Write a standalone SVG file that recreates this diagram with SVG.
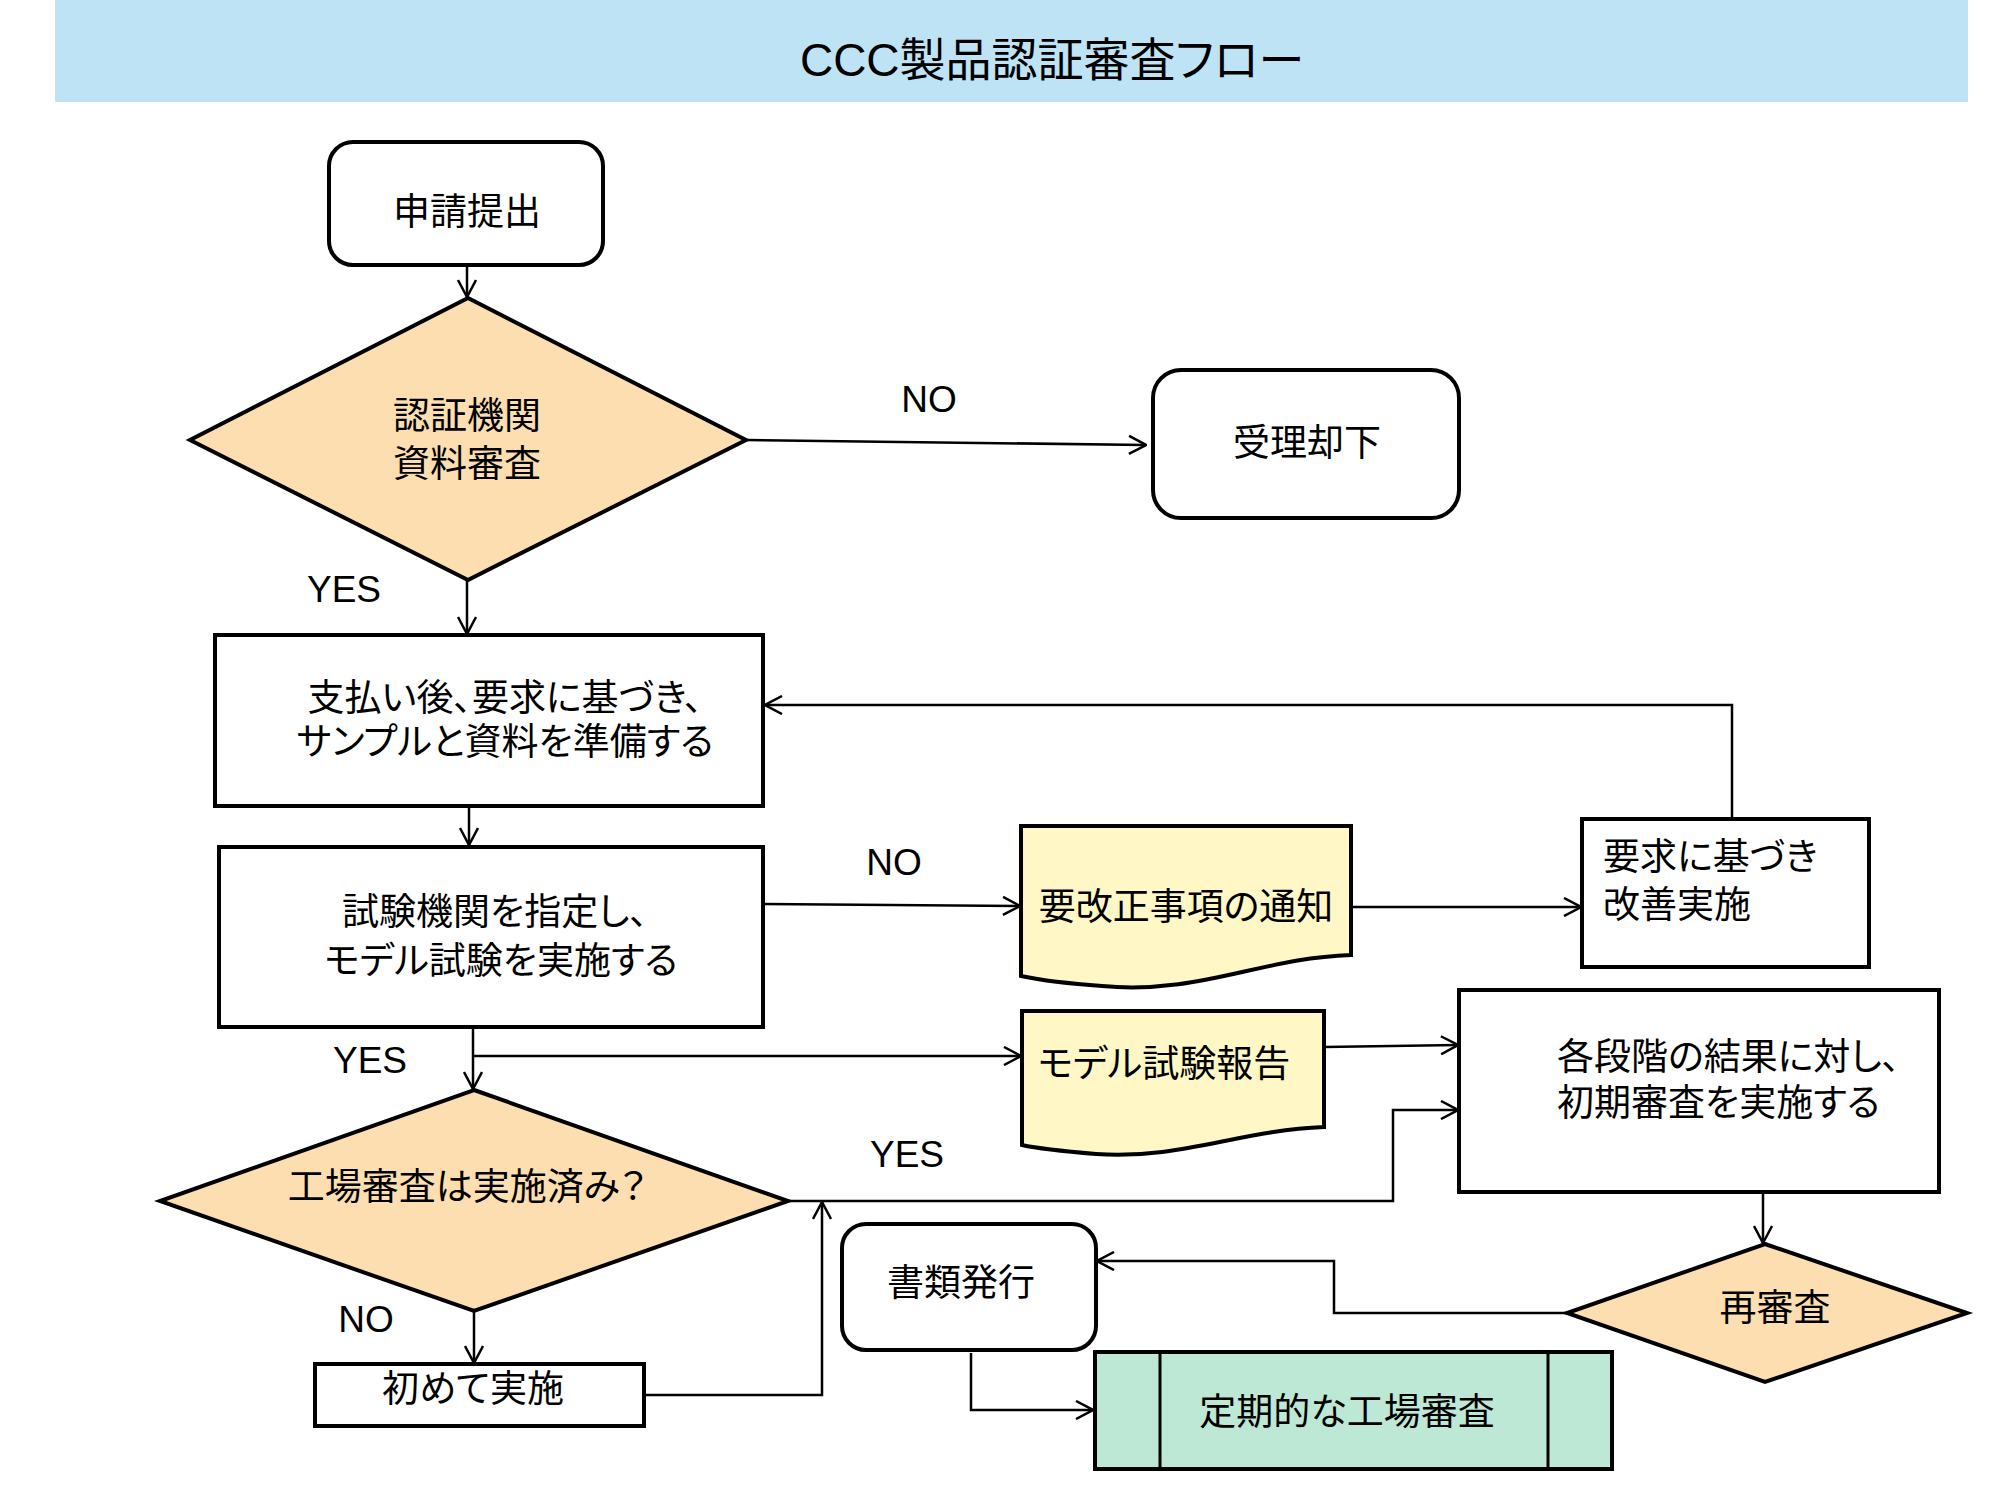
<svg xmlns="http://www.w3.org/2000/svg" width="2000" height="1500" viewBox="0 0 2000 1500">
<style>
.box{fill:#fff;stroke:#000;stroke-width:4}
.dia{fill:#FCDEB0;stroke:#000;stroke-width:4;stroke-linejoin:miter}
.doc{fill:#FFF7C5;stroke:#000;stroke-width:4}
.pre{fill:#BCE8D5;stroke:#000;stroke-width:4}
.conn{fill:none;stroke:#000;stroke-width:2.5;marker-end:url(#arr)}
.t{font-family:"Liberation Sans","Noto Sans CJK JP",sans-serif;font-size:37px;fill:#000;dominant-baseline:central;text-anchor:middle;font-feature-settings:"palt" 1}
.s{text-anchor:start}
.lbl{font-family:"Liberation Sans","Noto Sans CJK JP",sans-serif;font-size:37px;fill:#000;dominant-baseline:central;text-anchor:middle}
</style>
<defs>
<marker id="arr" viewBox="0 0 20 20" refX="19" refY="10" markerWidth="20" markerHeight="20" markerUnits="userSpaceOnUse" orient="auto">
<path d="M2,1 L19,10 L2,19" fill="none" stroke="#000" stroke-width="2.5"/>
</marker>
</defs>
<rect width="2000" height="1500" fill="#fff"/>
<g id="title">
<rect x="55" y="0" width="1913" height="102" fill="#BDE3F4"/>
<text class="t" x="1052" y="60" style="font-size:46px">CCC製品認証審査フロー</text>
</g>
<g id="connectors">
<path class="conn" d="M467,266 V297"/>
<path class="conn" d="M746,440 L1146,445"/>
<path class="conn" d="M467,581 V634"/>
<path class="conn" d="M1732,819 V705 H765"/>
<path class="conn" d="M469,806 V845"/>
<path class="conn" d="M763,904 L1020,906"/>
<path class="conn" d="M1351,907 H1581"/>
<path class="conn" d="M473,1027 V1089"/>
<path class="conn" d="M473,1056 H1021"/>
<path class="conn" d="M1324,1047 L1458,1045"/>
<path class="conn" d="M788,1201 H1393 V1110 H1458"/>
<path class="conn" d="M644,1395 H822 V1202"/>
<path class="conn" d="M474,1311 V1363"/>
<path class="conn" d="M1763,1192 V1243"/>
<path class="conn" d="M1568,1313 H1334 V1261 H1097"/>
<path class="conn" d="M971,1353 V1410 H1093"/>
</g>
<g id="labels">
<text class="lbl" x="929" y="399">NO</text>
<text class="lbl" x="344" y="589">YES</text>
<text class="lbl" x="894" y="862">NO</text>
<text class="lbl" x="370" y="1060">YES</text>
<text class="lbl" x="907" y="1154">YES</text>
<text class="lbl" x="366" y="1319">NO</text>
</g>
<g id="n-apply">
<rect class="box" x="329" y="142" width="274" height="123" rx="24"/>
<text class="t" x="467" y="212">申請提出</text>
</g>
<g id="n-docreview">
<polygon class="dia" points="468,298 746,440 468,580 190,440"/>
<text class="t" x="467" y="416">認証機関</text>
<text class="t" x="467" y="464">資料審査</text>
</g>
<g id="n-reject">
<rect class="box" x="1153" y="370" width="306" height="148" rx="28"/>
<text class="t" x="1307" y="443">受理却下</text>
</g>
<g id="n-prepare">
<rect class="box" x="215" y="635" width="548" height="171"/>
<text class="t" x="505" y="698">支払い後、要求に基づき、</text>
<text class="t" x="505" y="742">サンプルと資料を準備する</text>
</g>
<g id="n-test">
<rect class="box" x="219" y="847" width="544" height="180"/>
<text class="t" x="495" y="912">試験機関を指定し、</text>
<text class="t" x="501" y="961">モデル試験を実施する</text>
</g>
<g id="n-notice">
<path class="doc" d="M1021,826 H1351 V955 C1260,958 1200,995 1102,986 C1060,983 1040,980 1021,976 Z"/>
<text class="t" x="1186" y="907">要改正事項の通知</text>
</g>
<g id="n-improve">
<rect class="box" x="1582" y="819" width="287" height="148"/>
<text class="t s" x="1603" y="857">要求に基づき</text>
<text class="t s" x="1603" y="905">改善実施</text>
</g>
<g id="n-report">
<path class="doc" d="M1022,1011 H1324 V1127 C1240,1130 1180,1160 1096,1154 C1060,1151 1040,1149 1022,1145 Z"/>
<text class="t" x="1164" y="1064">モデル試験報告</text>
</g>
<g id="n-initial">
<rect class="box" x="1459" y="990" width="480" height="202"/>
<text class="t s" x="1557" y="1057">各段階の結果に対し、</text>
<text class="t s" x="1557" y="1103">初期審査を実施する</text>
</g>
<g id="n-factory">
<polygon class="dia" points="474,1090 788,1201 474,1311 160,1201"/>
<text class="t" x="467" y="1187">工場審査は実施済み？</text>
</g>
<g id="n-first">
<rect class="box" x="315" y="1364" width="329" height="62"/>
<text class="t" x="473" y="1389">初めて実施</text>
</g>
<g id="n-issue">
<rect class="box" x="842" y="1224" width="254" height="126" rx="24"/>
<text class="t" x="961" y="1283">書類発行</text>
</g>
<g id="n-periodic">
<rect class="pre" x="1095" y="1352" width="517" height="117"/>
<line x1="1160" y1="1352" x2="1160" y2="1469" stroke="#000" stroke-width="3"/>
<line x1="1548" y1="1352" x2="1548" y2="1469" stroke="#000" stroke-width="3"/>
<text class="t" x="1347" y="1412">定期的な工場審査</text>
</g>
<g id="n-rereview">
<polygon class="dia" points="1765,1244 1967,1313 1765,1382 1567,1313"/>
<text class="t" x="1775" y="1308">再審査</text>
</g>
</svg>
